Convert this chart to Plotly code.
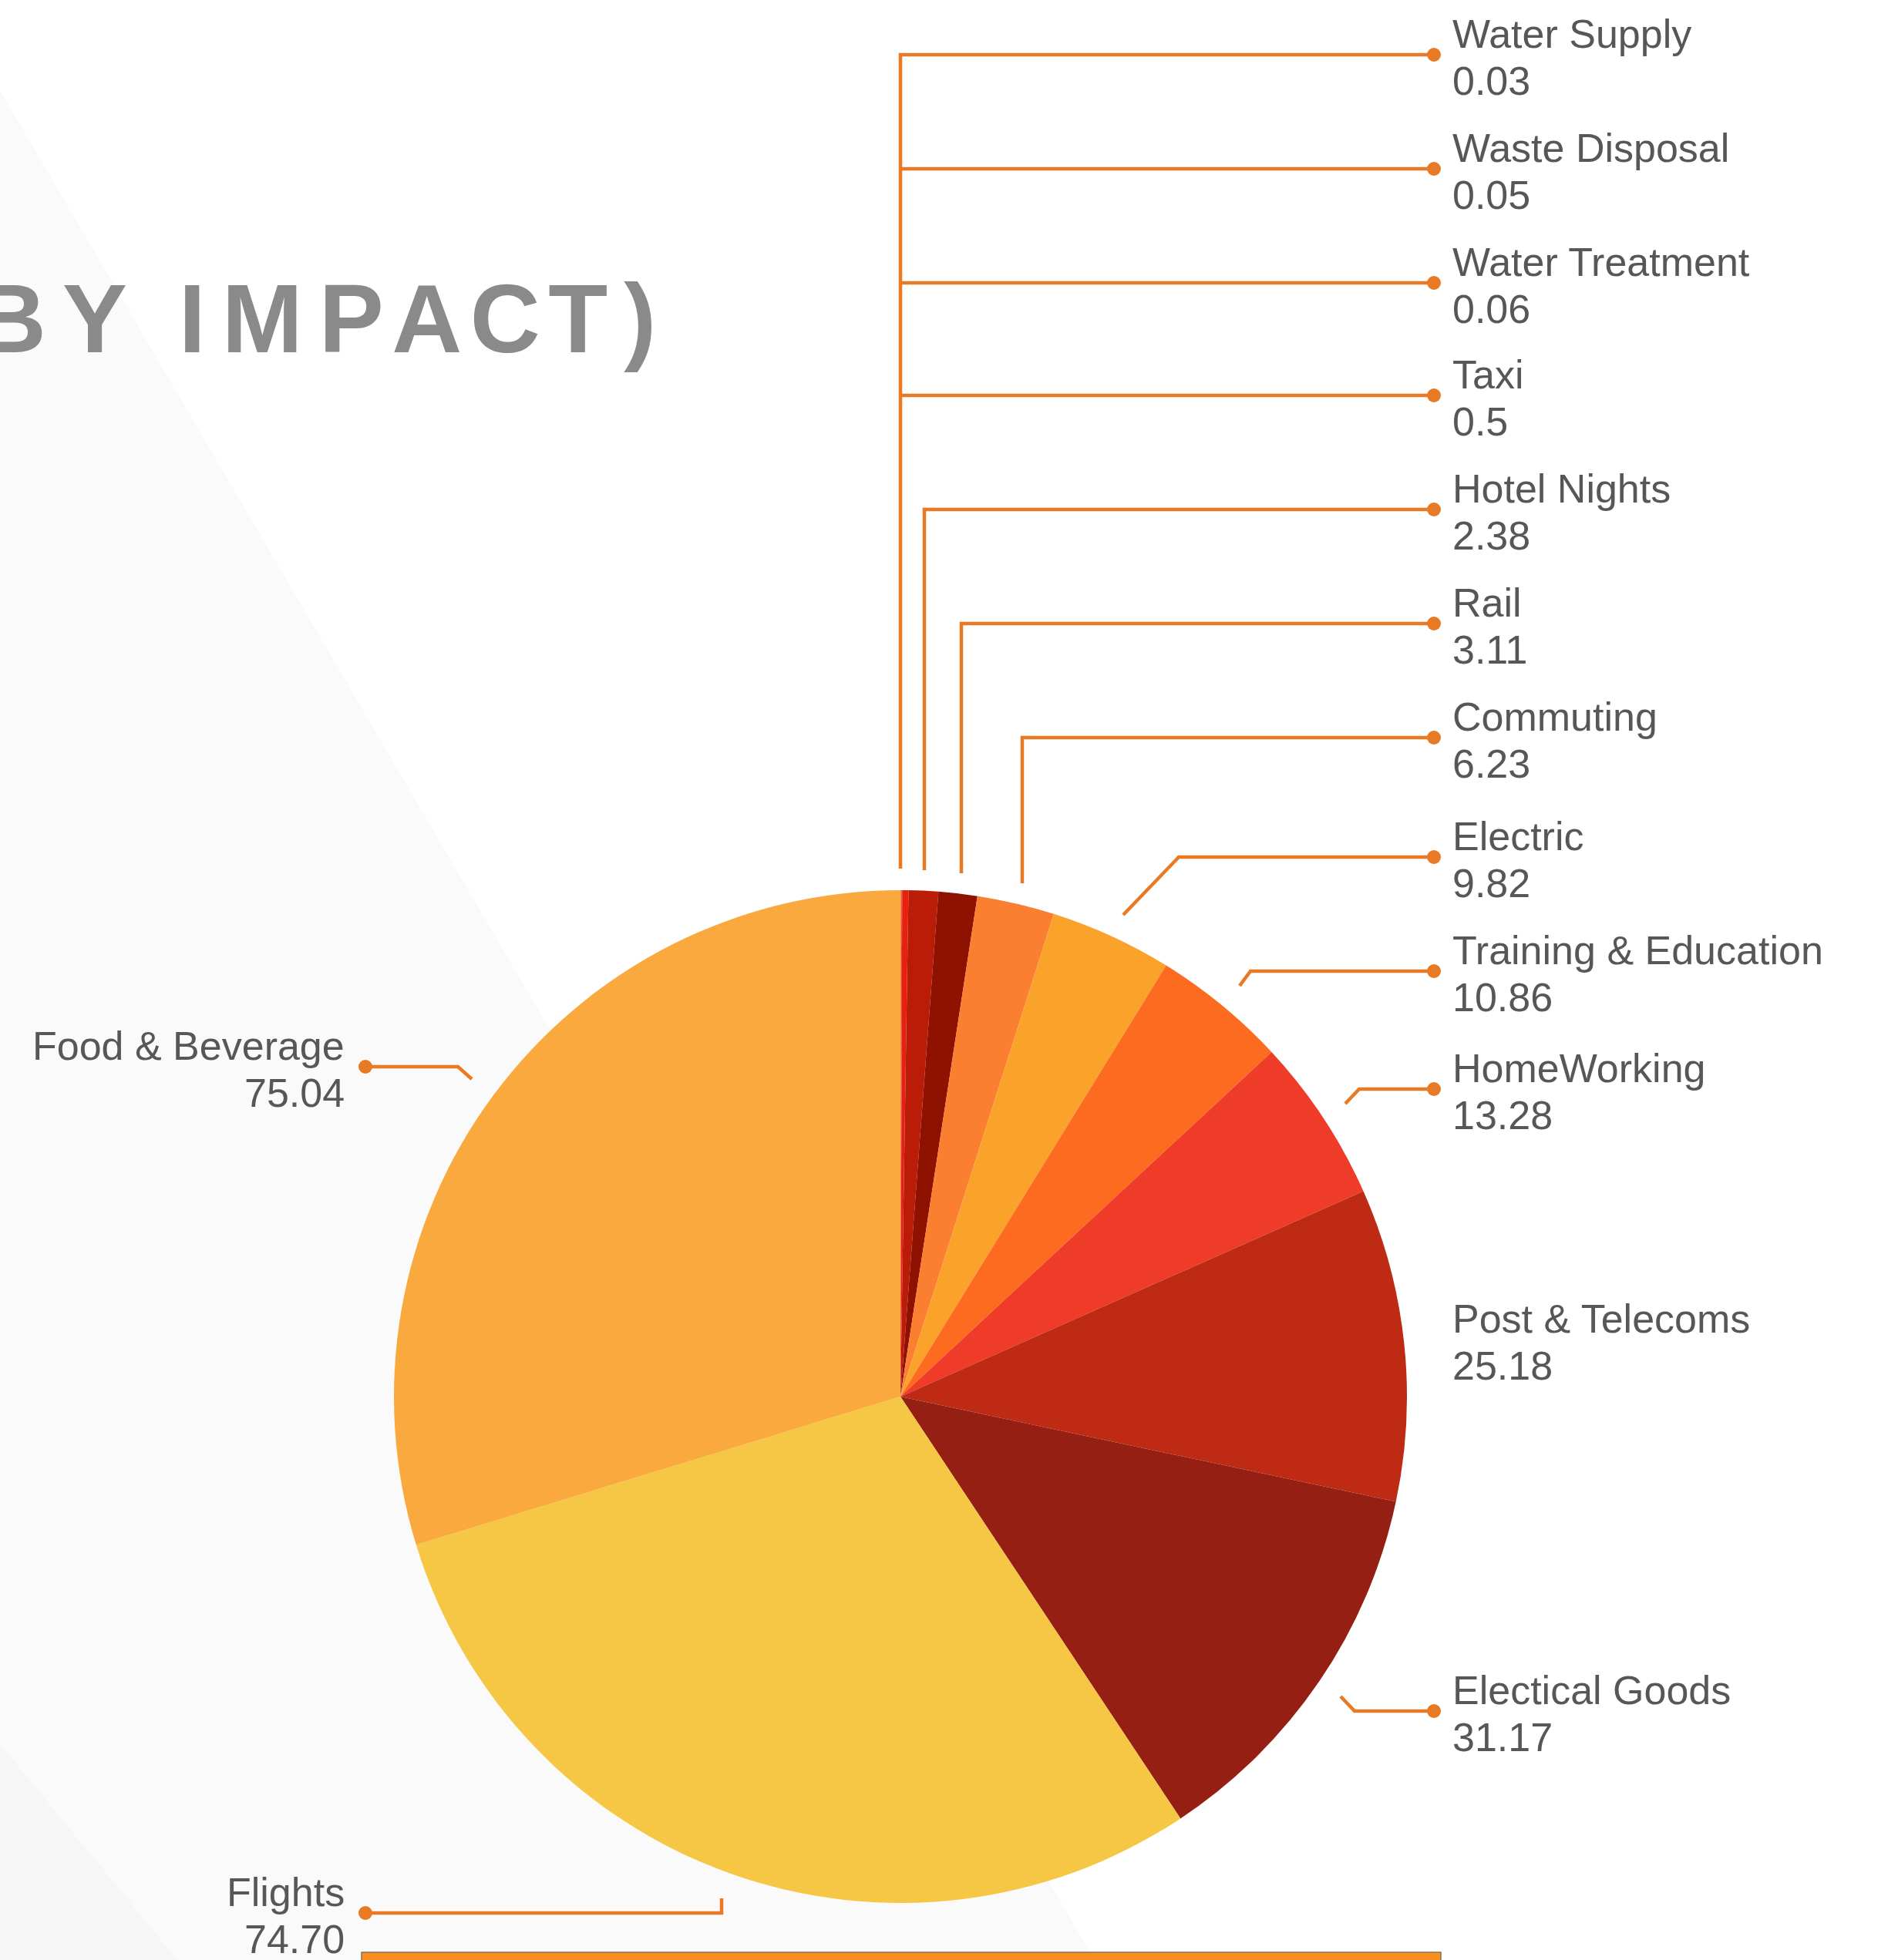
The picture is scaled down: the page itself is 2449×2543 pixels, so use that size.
import plotly.graph_objects as go

# ---------------- data ----------------
categories = ["Water Supply", "Waste Disposal", "Water Treatment", "Taxi",
              "Hotel Nights", "Rail", "Commuting", "Electric",
              "Training & Education", "HomeWorking", "Post & Telecoms",
              "Electical Goods", "Flights", "Food & Beverage"]
values = [0.03, 0.05, 0.06, 0.5, 2.38, 3.11, 6.23, 9.82, 10.86, 13.28,
          25.18, 31.17, 74.70, 75.04]
value_labels = ["0.03", "0.05", "0.06", "0.5", "2.38", "3.11", "6.23", "9.82",
                "10.86", "13.28", "25.18", "31.17", "74.70", "75.04"]
slice_colors = ["#f58b2c", "#e8501f", "#d92d16", "#e8210f",
                "#bb1c08", "#8f1100", "#fa7f30", "#fba22a",
                "#fc6b1f", "#ee3c28", "#bf2a15", "#961f14",
                "#f6c744", "#f9a93d"]
title_text = "BY IMPACT)"

# ---------------- layout helpers (pixel positions of callouts) ----------------
W, H = 2449, 2543
CX, CY, R = 1168, 1812, 657          # pie centre / radius in pixels
LINE_COLOR = "#e97a25"
TEXT_COLOR = "#575757"
FONT = "Liberation Sans, Arial, sans-serif"
FS = 52

# leader polylines (pixel space) and dot positions, per label
callouts = {
    "Water Supply":         dict(pts=[(1168, 1127), (1168, 71), (1860, 71)], side="r"),
    "Waste Disposal":       dict(pts=[(1168, 219), (1860, 219)], side="r"),
    "Water Treatment":      dict(pts=[(1168, 367), (1860, 367)], side="r"),
    "Taxi":                 dict(pts=[(1168, 513), (1860, 513)], side="r"),
    "Hotel Nights":         dict(pts=[(1199, 1129), (1199, 661), (1860, 661)], side="r"),
    "Rail":                 dict(pts=[(1247, 1133), (1247, 809), (1860, 809)], side="r"),
    "Commuting":            dict(pts=[(1326, 1146), (1326, 957), (1860, 957)], side="r"),
    "Electric":             dict(pts=[(1457, 1187), (1529, 1112), (1860, 1112)], side="r"),
    "Training & Education": dict(pts=[(1608, 1279), (1622, 1260), (1860, 1260)], side="r"),
    "HomeWorking":          dict(pts=[(1745, 1432), (1763, 1413), (1860, 1413)], side="r"),
    "Post & Telecoms":      dict(pts=None, dot=(1860, 1738), side="r"),
    "Electical Goods":      dict(pts=[(1739, 2201), (1757, 2220), (1860, 2220)], side="r"),
    "Flights":              dict(pts=[(936, 2463), (936, 2482), (474, 2482)], side="l"),
    "Food & Beverage":      dict(pts=[(612, 1400), (594, 1384), (474, 1384)], side="l"),
}

fig = go.Figure()

# pie
fig.add_trace(go.Pie(
    labels=categories, values=values, sort=False, direction="clockwise",
    rotation=0, textinfo="none", hoverinfo="label+value", showlegend=False,
    marker=dict(colors=slice_colors, line=dict(width=0)),
    domain=dict(x=[(CX - R) / W, (CX + R) / W],
                y=[(H - CY - R) / H, (H - CY + R) / H]),
))

shapes = []
# faint background bands
shapes.append(dict(type="path", xref="x", yref="y", layer="below",
                   path=f"M 0 117 L 1420 {H} L 0 {H} Z",
                   fillcolor="#fafafa", line=dict(width=0)))
shapes.append(dict(type="path", xref="x", yref="y", layer="below",
                   path=f"M 0 2263 L 230 {H} L 0 {H} Z",
                   fillcolor="#f6f6f6", line=dict(width=0)))
# bottom orange bar
shapes.append(dict(type="rect", xref="x", yref="y", layer="above",
                   x0=469, x1=1869, y0=2533, y1=H + 5,
                   fillcolor="#f7901e", line=dict(color="#8c7058", width=1.5)))

annotations = []
dot_x, dot_y = [], []
for name, val_lbl in zip(categories, value_labels):
    c = callouts[name]
    if c["pts"] is not None:
        pts = c["pts"]
        path = "M " + " L ".join(f"{x} {y}" for x, y in pts)
        shapes.append(dict(type="path", xref="x", yref="y", layer="above",
                           path=path, line=dict(color=LINE_COLOR, width=4.5)))
        dx, dy = pts[-1]
        dot_x.append(dx)
        dot_y.append(dy)
    else:
        dx, dy = c["dot"]
    if c["side"] == "r":
        tx, anchor = 1882, "left"
    else:
        tx, anchor = 449, "right"
    annotations.append(dict(x=tx, y=dy - 27, xref="x", yref="y", text=name,
                            showarrow=False, xanchor=anchor, yanchor="middle",
                            font=dict(family=FONT, size=FS, color=TEXT_COLOR)))
    annotations.append(dict(x=tx, y=dy + 34, xref="x", yref="y", text=val_lbl,
                            showarrow=False, xanchor=anchor, yanchor="middle",
                            font=dict(family=FONT, size=FS, color=TEXT_COLOR)))

# dots at label ends
fig.add_trace(go.Scatter(x=dot_x, y=dot_y, mode="markers", hoverinfo="skip",
                         showlegend=False,
                         marker=dict(size=18, color=LINE_COLOR, line=dict(width=0))))

# title (partially cropped, widely tracked with hair spaces)
# number of hair spaces inserted after each character of the title
tracking = [2, 1, 2, 2, 2, 1, 1, 1, 2, 0]
HAIR = "\u200a"
tracked = "".join(ch + HAIR * n for ch, n in zip(title_text, tracking))
annotations.append(dict(x=853, y=413, xref="x", yref="y",
                        text=tracked,
                        showarrow=False, xanchor="right", yanchor="middle",
                        font=dict(family=FONT, size=126, color="#8a8a8a",
                                  weight="bold")))

fig.update_layout(
    width=W, height=H, autosize=False,
    margin=dict(l=0, r=0, t=0, b=0, pad=0),
    paper_bgcolor="#ffffff", plot_bgcolor="rgba(0,0,0,0)",
    xaxis=dict(range=[0, W], visible=False, domain=[0, 1], fixedrange=True),
    yaxis=dict(range=[H, 0], visible=False, domain=[0, 1], fixedrange=True),
    shapes=shapes, annotations=annotations,
)

fig.write_html("out.html",
               config={"displayModeBar": False},
               post_script="document.body.style.margin='0px';"
                           "document.documentElement.style.overflow='hidden';")
